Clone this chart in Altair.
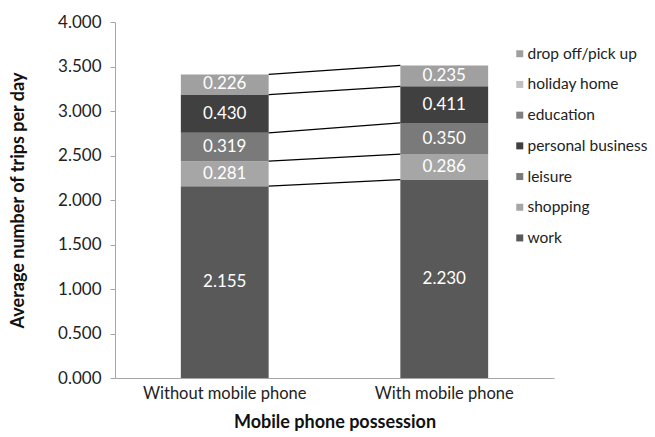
import altair as alt
import pandas as pd

groups = ["Without mobile phone", "With mobile phone"]
purposes = ["work", "shopping", "leisure", "personal business", "education", "holiday home", "drop off/pick up"]
without_vals = [2.155, 0.281, 0.319, 0.430, 0.0, 0.0, 0.226]
with_vals = [2.230, 0.286, 0.350, 0.411, 0.0, 0.0, 0.235]
colors = ["#595959", "#a6a6a6", "#7a7a7a", "#404040", "#808080", "#c0c0c0", "#a0a0a0"]
legend_order = ["drop off/pick up", "holiday home", "education", "personal business", "leisure", "shopping", "work"]

rows = []
for g, vals in zip(groups, [without_vals, with_vals]):
    cum = 0.0
    for i, (p, v) in enumerate(zip(purposes, vals)):
        rows.append({"group": g, "purpose": p, "value": v, "idx": i,
                     "y0": cum, "y1": cum + v, "mid": cum + v / 2})
        cum += v
df = pd.DataFrame(rows)

lines = []
cw, cm = 0.0, 0.0
for p, a, b in zip(purposes, without_vals, with_vals):
    cw += a
    cm += b
    if a > 0 or b > 0:
        lines.append({"g1": groups[0], "g2": groups[1], "ya": cw, "yb": cm})
ldf = pd.DataFrame(lines)

FONT = "Lato"
xscale = alt.Scale(domain=groups, paddingInner=0.6, paddingOuter=0.3)
yscale = alt.Scale(domain=[0, 4])

bars = alt.Chart(df).mark_bar(stroke=None).encode(
    x=alt.X("group:N", scale=xscale, sort=groups,
            axis=alt.Axis(title="Mobile phone possession", labelAngle=0, ticks=False,
                          labelFontSize=16.5, labelColor="#222222", labelPadding=7,
                          titleFontSize=18, titleFontWeight="bold", titleColor="#111111",
                          titlePadding=12, domainColor="#a6a6a6", labelFont=FONT, titleFont=FONT)),
    y=alt.Y("y0:Q", scale=yscale,
            axis=alt.Axis(title="Average number of trips per day", values=[0, 0.5, 1, 1.5, 2, 2.5, 3, 3.5, 4],
                          format=".3f", grid=False, labelFontSize=17, labelColor="#222222",
                          tickColor="#a6a6a6", tickSize=5, domainColor="#a6a6a6", labelPadding=9,
                          titleFontSize=18, titleFontWeight="bold", titleColor="#111111",
                          titlePadding=30, labelFont=FONT, titleFont=FONT)),
    y2="y1:Q",
    color=alt.Color("purpose:N", scale=alt.Scale(domain=purposes, range=colors),
                    sort=legend_order,
                    legend=alt.Legend(title=None, orient="none", legendX=397, legendY=24,
                                      symbolType="square", symbolSize=49, symbolStrokeWidth=0,
                                      labelFontSize=15.5, labelColor="#222222", rowPadding=13.7,
                                      labelOffset=0, labelLimit=200, labelFont=FONT,
                                      values=legend_order)),
)

labels = alt.Chart(df[df["value"] > 0]).mark_text(color="white", fontSize=17, font=FONT).encode(
    x=alt.X("group:N", scale=xscale, sort=groups),
    y=alt.Y("mid:Q", scale=yscale),
    text=alt.Text("value:Q", format=".3f"),
)

connectors = alt.Chart(ldf).mark_rule(color="black", strokeWidth=1.3).encode(
    x=alt.X("g1:N", scale=xscale, bandPosition=1),
    x2=alt.X2("g2:N", bandPosition=0),
    y=alt.Y("ya:Q", scale=yscale),
    y2="yb:Q",
)

chart = alt.layer(bars, connectors, labels).properties(
    width=439, height=356,
    padding={"left": 115, "top": 22, "right": 101, "bottom": 59},
    autosize=alt.AutoSizeParams(type="none"),
).configure_view(stroke=None)

chart.save("out.html", embed_options={"renderer": "svg", "actions": False})
